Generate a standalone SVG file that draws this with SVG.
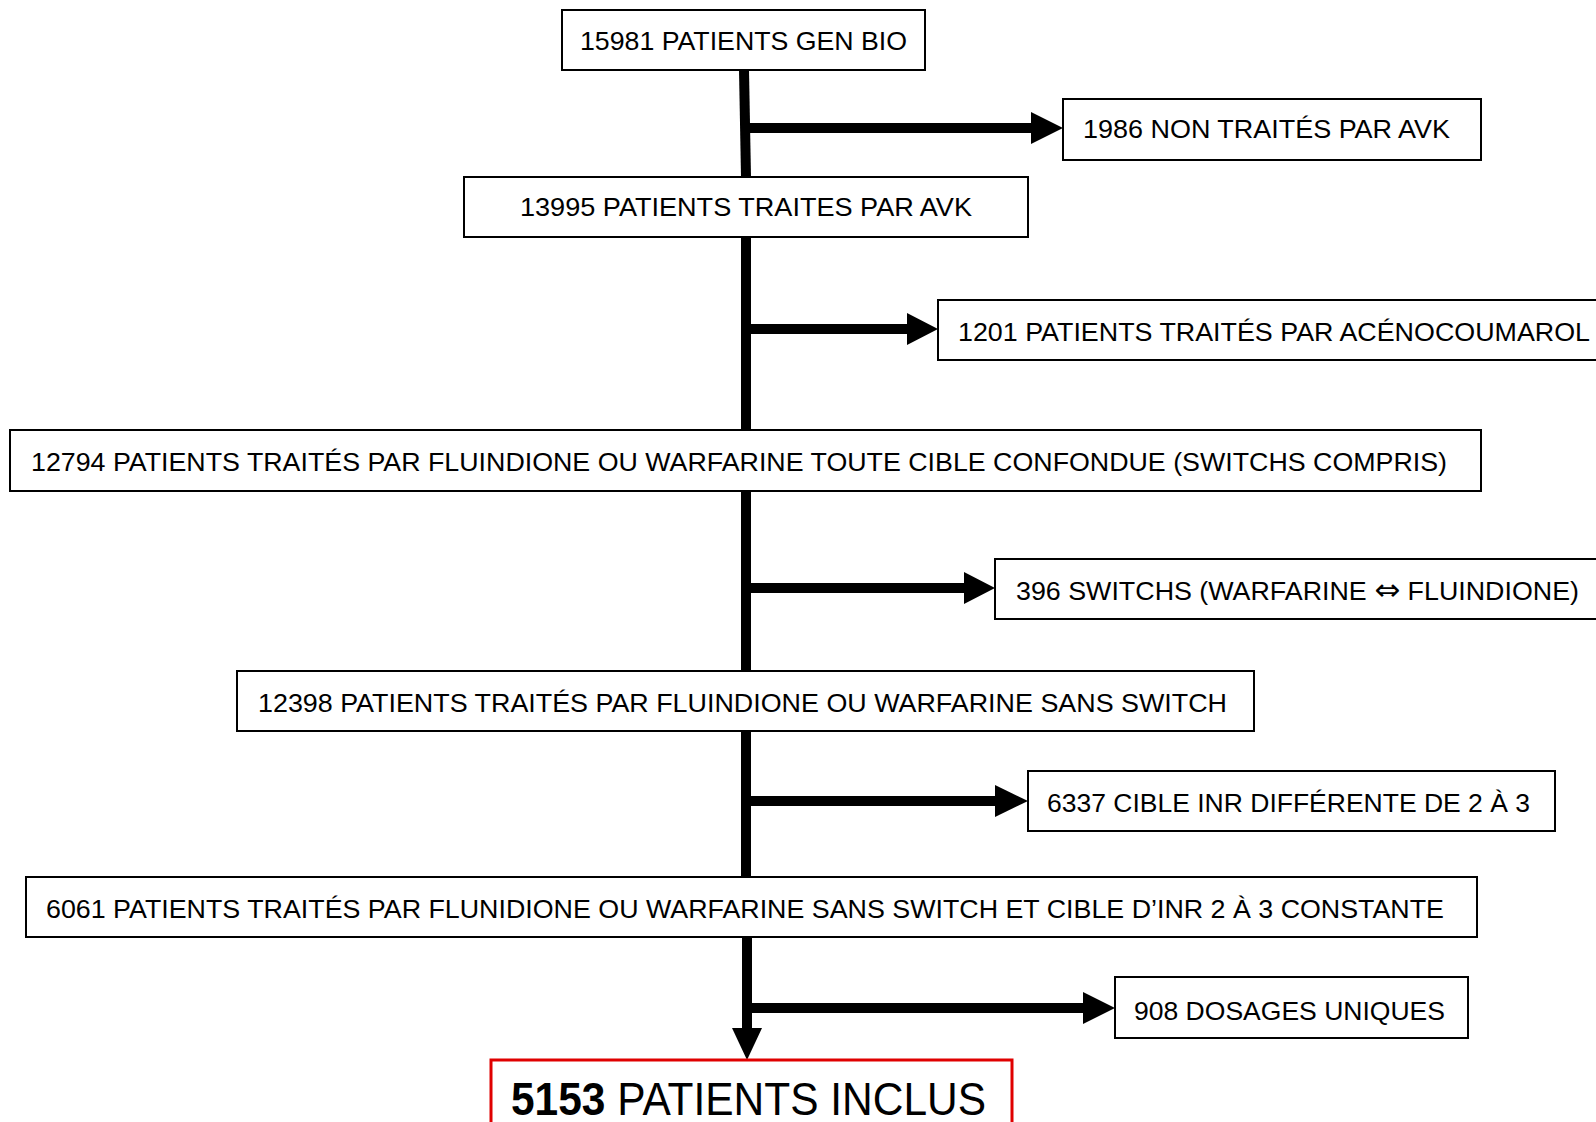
<svg xmlns="http://www.w3.org/2000/svg" width="1596" height="1122" viewBox="0 0 1596 1122">
<style>
.box{fill:#fff;stroke:#000;stroke-width:2}
.inc{fill:#fff;stroke:#e00000;stroke-width:3}
.t{font-family:"Liberation Sans",Arial,sans-serif;font-size:26px;fill:#000}
.big{font-family:"Liberation Sans",Arial,sans-serif;font-size:47px;fill:#000}
.sh{stroke:#000;stroke-width:10;fill:none}
.hd{fill:#000}
.sym{font-family:"DejaVu Sans",sans-serif;font-size:30px}
</style>
<rect width="1596" height="1122" fill="#fff"/>
<g id="connectors">
<line class="sh" x1="744" y1="70" x2="746" y2="177"/>
<line class="sh" x1="746" y1="237" x2="746" y2="430"/>
<line class="sh" x1="746" y1="491" x2="746" y2="671"/>
<line class="sh" x1="746" y1="731" x2="746" y2="877"/>
<line class="sh" x1="747" y1="937" x2="747" y2="1030"/>
<polygon class="hd" points="732,1028 762,1028 747,1060"/>
<line class="sh" x1="749" y1="128" x2="1033" y2="128"/>
<polygon class="hd" points="1031,112 1063,128 1031,144"/>
<line class="sh" x1="749" y1="329" x2="909" y2="329"/>
<polygon class="hd" points="907,313 938,329 907,345"/>
<line class="sh" x1="749" y1="588" x2="966" y2="588"/>
<polygon class="hd" points="964,572 995,588 964,604"/>
<line class="sh" x1="749" y1="801" x2="997" y2="801"/>
<polygon class="hd" points="995,785 1028,801 995,817"/>
<line class="sh" x1="749" y1="1008" x2="1085" y2="1008"/>
<polygon class="hd" points="1083,992 1115,1008 1083,1024"/>
</g>
<g id="n1"><rect class="box" x="562" y="10" width="363" height="60"/><text class="t" x="580" y="50" textLength="327" lengthAdjust="spacingAndGlyphs">15981 PATIENTS GEN BIO</text></g>
<g id="n2"><rect class="box" x="1063" y="99" width="418" height="61"/><text class="t" x="1083" y="138" textLength="367" lengthAdjust="spacingAndGlyphs">1986 NON TRAITÉS PAR AVK</text></g>
<g id="n3"><rect class="box" x="464" y="177" width="564" height="60"/><text class="t" x="520" y="216" textLength="452" lengthAdjust="spacingAndGlyphs">13995 PATIENTS TRAITES PAR AVK</text></g>
<g id="n4"><rect class="box" x="938" y="300" width="670" height="60"/><text class="t" x="958" y="341" textLength="632" lengthAdjust="spacingAndGlyphs">1201 PATIENTS TRAITÉS PAR ACÉNOCOUMAROL</text></g>
<g id="n5"><rect class="box" x="10" y="430" width="1471" height="61"/><text class="t" x="31" y="471" textLength="1416" lengthAdjust="spacingAndGlyphs">12794 PATIENTS TRAITÉS PAR FLUINDIONE OU WARFARINE TOUTE CIBLE CONFONDUE (SWITCHS COMPRIS)</text></g>
<g id="n6"><rect class="box" x="995" y="559" width="613" height="60"/><text class="t" x="1016" y="600" textLength="563" lengthAdjust="spacingAndGlyphs">396 SWITCHS (WARFARINE <tspan class="sym">⇔</tspan> FLUINDIONE)</text></g>
<g id="n7"><rect class="box" x="237" y="671" width="1017" height="60"/><text class="t" x="258" y="712" textLength="969" lengthAdjust="spacingAndGlyphs">12398 PATIENTS TRAITÉS PAR FLUINDIONE OU WARFARINE SANS SWITCH</text></g>
<g id="n8"><rect class="box" x="1028" y="771" width="527" height="60"/><text class="t" x="1047" y="812" textLength="483" lengthAdjust="spacingAndGlyphs">6337 CIBLE INR DIFFÉRENTE DE 2 À 3</text></g>
<g id="n9"><rect class="box" x="26" y="877" width="1451" height="60"/><text class="t" x="46" y="918" textLength="1398" lengthAdjust="spacingAndGlyphs">6061 PATIENTS TRAITÉS PAR FLUNIDIONE OU WARFARINE SANS SWITCH ET CIBLE D’INR 2 À 3 CONSTANTE</text></g>
<g id="n10"><rect class="box" x="1115" y="977" width="353" height="61"/><text class="t" x="1134" y="1020" textLength="311" lengthAdjust="spacingAndGlyphs">908 DOSAGES UNIQUES</text></g>
<g id="n11"><rect class="inc" x="491" y="1060" width="521" height="80"/><text class="big" x="511" y="1115" textLength="475" lengthAdjust="spacingAndGlyphs"><tspan font-weight="bold">5153</tspan> PATIENTS INCLUS</text></g>
</svg>
